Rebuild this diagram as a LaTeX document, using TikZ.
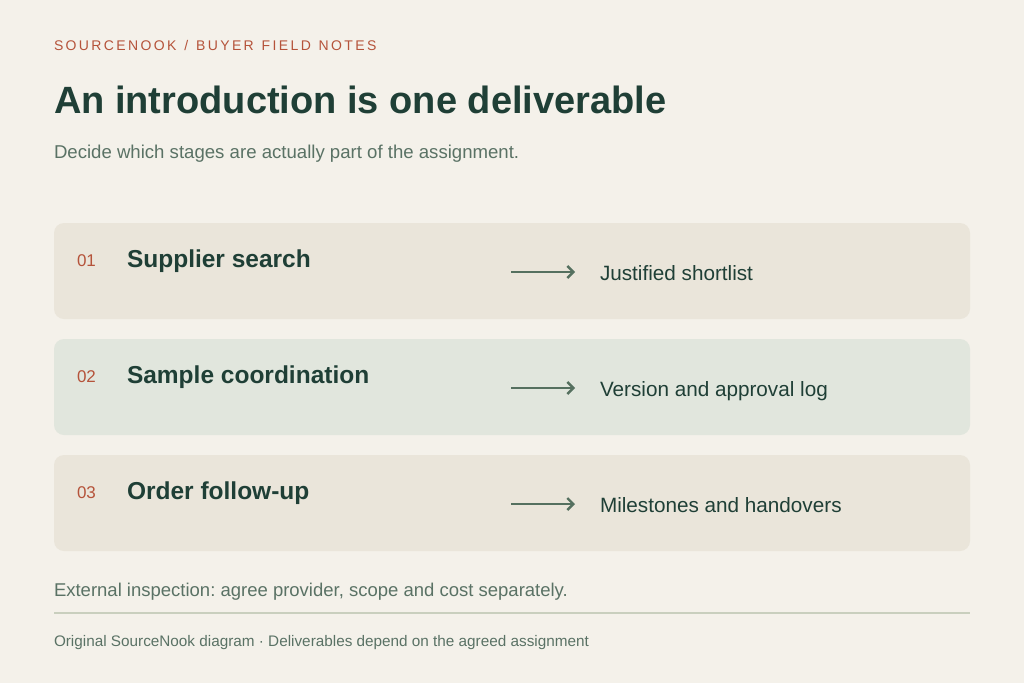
\documentclass[tikz,border=0pt]{standalone}
\usepackage{fontspec}
\setmainfont{Liberation Sans}
\newfontfamily\kickerfont[LetterSpace=17,WordSpace=1.25]{Liberation Sans}
\usetikzlibrary{arrows.meta}
\frenchspacing
\definecolor{bg}{HTML}{F4F1EA}
\definecolor{boxa}{HTML}{EAE5DA}
\definecolor{boxb}{HTML}{E1E6DD}
\definecolor{ink}{HTML}{1F3F36}
\definecolor{rust}{HTML}{B5533A}
\definecolor{muted}{HTML}{5A7265}
\definecolor{arr}{HTML}{55705F}
\definecolor{rule}{HTML}{C9CFBE}
\begin{document}
\begin{tikzpicture}[x=1pt,y=-1pt,
  txt/.style={anchor=base west,inner sep=0pt,outer sep=0pt},
  rowbox/.style={rounded corners=10pt,draw=none},
  num/.style={txt,text=rust,font=\fontsize{17}{20}\selectfont},
  stage/.style={txt,text=ink,font=\bfseries\fontsize{24.5}{28}\selectfont},
  deliv/.style={txt,text=ink,font=\fontsize{20.7}{24}\selectfont},
  flow/.style={draw=arr,line width=2.4pt,-{Straight Barb[length=6pt,width=12pt,line width=2.4pt]}}
]
\fill[bg] (0,0) rectangle (1024,683);
\useasboundingbox (0,0) rectangle (1024,683);

\node[txt,text=rust,font=\kickerfont\frenchspacing\fontsize{14}{17}\selectfont] (kicker) at (54,50) {SOURCENOOK / BUYER FIELD NOTES};
\node[txt,text=ink,font=\bfseries\fontsize{38}{44}\selectfont] (title) at (54,113) {An introduction is one deliverable};
\node[txt,text=muted,font=\fontsize{18.6}{22}\selectfont] (sub) at (54,158) {Decide which stages are actually part of the assignment.};

\fill[rowbox,boxa] (54,223) rectangle (970,319);
\fill[rowbox,boxb] (54,339) rectangle (970,435);
\fill[rowbox,boxa] (54,455) rectangle (970,551);

\foreach \i/\y/\n/\s/\d in {1/0/01/Supplier search/Justified shortlist,
                             2/116/02/Sample coordination/Version and approval log,
                             3/232/03/Order follow-up/Milestones and handovers}{
  \node[num] (n\i) at (77,266+\y) {\n};
  \node[stage] (s\i) at (127,267+\y) {\s};
  \coordinate (a\i) at (511,272+\y);
  \coordinate (b\i) at (575,272+\y);
  \draw[flow] (a\i) -- (b\i);
  \node[deliv] (d\i) at (600,280.5+\y) {\d};
}

\node[txt,text=muted,font=\frenchspacing\fontsize{18.5}{22}\selectfont] (ext) at (54,596.5) {External inspection: agree provider, scope and cost separately.};
\coordinate (r1) at (54,613);
\coordinate (r2) at (970,613);
\draw[rule,line width=2pt] (r1) -- (r2);
\node[txt,text=muted,font=\fontsize{15.3}{18}\selectfont] (foot) at (54,646.5) {Original SourceNook diagram · Deliverables depend on the agreed assignment};
\end{tikzpicture}
\end{document}
